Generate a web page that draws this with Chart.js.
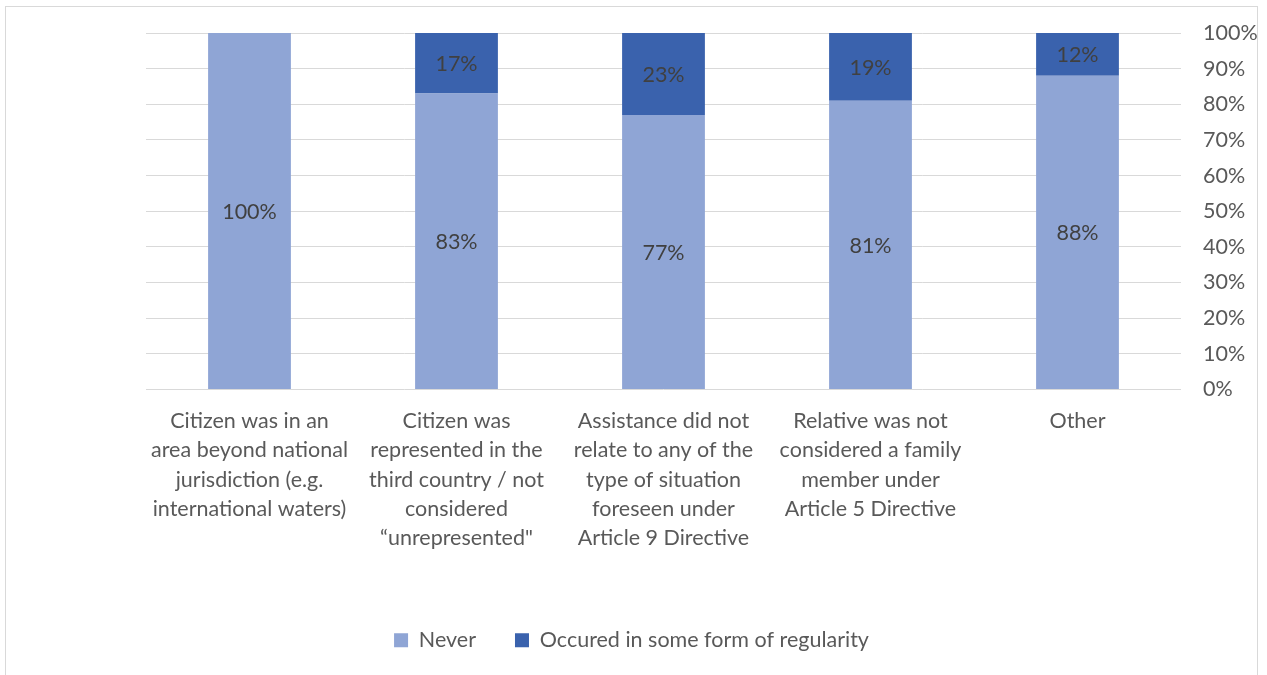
<!DOCTYPE html>
<html>
<head>
<meta charset="utf-8">
<script src="https://cdn.jsdelivr.net/npm/chart.js@4.4.1/dist/chart.umd.min.js"></script>
<style>
  body { margin: 0; background: #fff; }
  #wrap {
    position: absolute; left: 5px; top: 6px;
    width: 1253px; height: 680px;
    border: 1px solid #d9d9d9; box-sizing: border-box;
  }
  #wrap canvas { position: absolute; left: 0; top: 0; }
</style>
</head>
<body>
<div id="wrap"><canvas id="chart1" width="1251" height="668"></canvas></div>
<script>
// categories, wrapped the same way as the original
const categories = [
    ["Citizen was in an", "area beyond national", "jurisdiction (e.g.", "international waters)"],
    ["Citizen was", "represented in the", "third country / not", "considered", "\u201cunrepresented\""],
    ["Assistance did not", "relate to any of the", "type of situation", "foreseen under", "Article 9 Directive"],
    ["Relative was not", "considered a family", "member under", "Article 5 Directive"],
    ["Other"]
];
const neverValues = [100, 83, 77, 81, 88];
const regularValues = [0, 17, 23, 19, 12];
const seriesNames = ["Never", "Occured in some form of regularity"];

const textColor = '#595959';
const fontName = 'Lato, "Open Sans", sans-serif';
const fontSize = 21.5;

// draw the % values in the middle of each segment
const barLabels = {
    id: 'barLabels',
    afterDatasetsDraw(chart) {
        const ctx = chart.ctx;
        ctx.save();
        ctx.font = fontSize + 'px ' + fontName;
        ctx.fillStyle = '#404040';
        ctx.textAlign = 'center';
        ctx.textBaseline = 'middle';
        chart.data.datasets.forEach((ds, i) => {
            const meta = chart.getDatasetMeta(i);
            meta.data.forEach((bar, j) => {
                const v = ds.data[j];
                if (!v) return;
                ctx.fillText(v + '%', bar.x, (bar.y + bar.base) / 2 + 1);
            });
        });
        ctx.restore();
    }
};

const ctx = document.getElementById('chart1').getContext('2d');
const chart = new Chart(ctx, {
    type: 'bar',
    data: {
        labels: categories,
        datasets: [{
            label: seriesNames[0],
            data: neverValues,
            backgroundColor: '#8FA5D5',
            barPercentage: 0.4,
            categoryPercentage: 1
        }, {
            label: seriesNames[1],
            data: regularValues,
            backgroundColor: '#3A62AD',
            barPercentage: 0.4,
            categoryPercentage: 1
        }]
    },
    options: {
        responsive: false,
        animation: false,
        layout: { padding: { left: 0, top: 26, right: 0, bottom: 14 } },
        plugins: {
            legend: {
                position: 'bottom',
                labels: {
                    color: textColor,
                    font: { family: fontName, size: fontSize },
                    boxWidth: 14,
                    boxHeight: 14,
                    padding: 39
                }
            },
            tooltip: { enabled: false }
        },
        scales: {
            x: {
                stacked: true,
                grid: { display: false },
                border: { display: false },
                ticks: {
                    color: textColor,
                    font: { family: fontName, size: fontSize, lineHeight: 1.36 },
                    maxRotation: 0,
                    padding: 9
                },
                afterFit(scale) { scale.height = 201; }
            },
            y: {
                stacked: true,
                position: 'right',
                min: 0,
                max: 100,
                grid: { color: '#d9d9d9', drawTicks: false },
                border: { display: false },
                ticks: {
                    stepSize: 10,
                    color: textColor,
                    font: { family: fontName, size: fontSize },
                    padding: 22,
                    callback: v => v + '%'
                },
                afterFit(scale) {
                    scale.width = 76;
                    scale.paddingTop = 0;
                    scale.paddingBottom = 0;
                }
            },
            // empty axis that only keeps the blank space left of the plot
            spacer: {
                type: 'linear',
                position: 'left',
                grid: { display: false },
                border: { display: false },
                ticks: { display: false },
                afterFit(scale) {
                    scale.width = 140;
                    scale.paddingTop = 0;
                    scale.paddingBottom = 0;
                }
            }
        }
    },
    plugins: [barLabels]
});
</script>
</body>
</html>
